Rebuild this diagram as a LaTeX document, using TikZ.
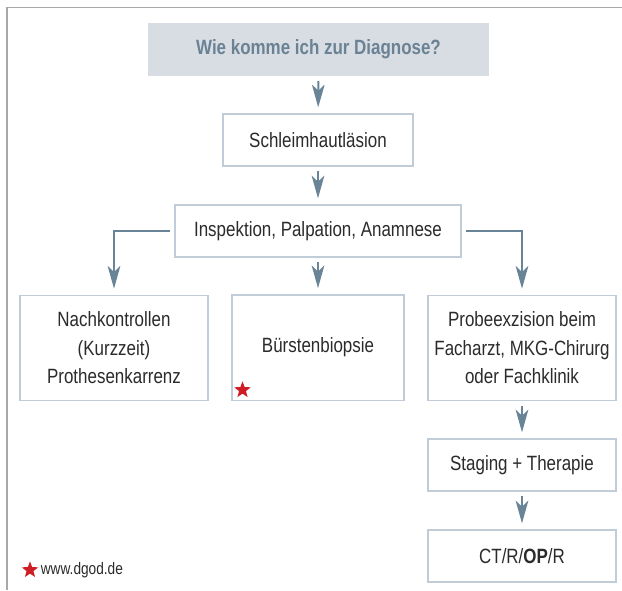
\documentclass[tikz,border=0pt]{standalone}
\usepackage{fontspec}
\setmainfont[FakeStretch=0.82]{Liberation Sans}
\usetikzlibrary{arrows.meta,positioning,shapes.geometric}
\definecolor{dgarrow}{RGB}{106,132,151}
\definecolor{dgborder}{RGB}{192,205,216}
\definecolor{dgfill}{RGB}{216,221,227}
\definecolor{dgtitle}{RGB}{106,130,148}
\definecolor{dgtext}{RGB}{43,43,43}
\definecolor{dgframe}{RGB}{168,168,168}
\definecolor{dgred}{RGB}{208,28,36}
\begin{document}
\begin{tikzpicture}[x=0.75pt,y=0.75pt,yscale=-1,xscale=1,
  box/.style={draw=dgborder,line width=1pt,fill=white,inner sep=0pt,align=center,text=dgtext,font=\fontsize{15.5}{21.4}\selectfont},
  titlebox/.style={fill=dgfill,inner sep=0pt,text=dgtitle,font=\fontsize{15.5}{18}\selectfont\bfseries},
  arr/.style={draw=dgarrow,line width=1.5pt,-{Stealth[length=17pt,width=9.5pt,inset=4.5pt]},shorten <=3.5pt,shorten >=4.5pt},
  redstar/.style={star,star points=5,star point ratio=2.4,fill=dgred,inner sep=0pt,minimum size=13pt}]
\useasboundingbox (0,0) rectangle (622,590);
%Frame
\draw [dgframe,line width=1.2pt] (7,590) -- (7,7.5) -- (622,7.5) ;
% Title
\draw (318.5,49.5) node (title) [titlebox,minimum width=255.75pt,minimum height=39.75pt] {Wie komme ich zur Diagnose?};
% Boxes
\draw (318,140) node (sch) [box,minimum width=142.5pt,minimum height=39pt] {Schleimhautläsion};
\draw (318,231) node (insp) [box,minimum width=214.5pt,minimum height=39pt] {Inspektion, Palpation, Anamnese};
\draw (114,348) node (nach) [box,minimum width=141pt,minimum height=79pt] {Nachkontrollen\\(Kurzzeit)\\Prothesenkarrenz};
\draw (318,347.5) node (buer) [box,minimum width=129pt,minimum height=79pt] {Bürstenbiopsie};
\draw (522,348) node (probe) [box,minimum width=141pt,minimum height=79pt] {Probeexzision beim\\Facharzt, MKG-Chirurg\\oder Fachklinik};
\draw (522,465) node (stag) [box,minimum width=141pt,minimum height=39pt] {Staging + Therapie};
\draw (522,556) node (ct) [box,minimum width=141pt,minimum height=39pt] {CT/R/\textbf{OP}/R};
% Stars
\draw (242.5,390) node (bstar) [redstar] {};
\draw (30,570) node (dgstar) [redstar] {};
\node (url) [right=4pt of dgstar,inner sep=0pt,text=dgtext,font=\fontsize{12.5}{15}\selectfont] {www.dgod.de};
% Arrows
\draw [arr] (title) -- (sch) ;
\draw [arr] (sch) -- (insp) ;
\draw [arr] (insp.west) -| (nach) ;
\draw [arr] (insp) -- (buer) ;
\draw [arr] (insp.east) -| (probe) ;
\draw [arr] (probe) -- (stag) ;
\draw [arr] (stag) -- (ct) ;
\end{tikzpicture}
\end{document}
